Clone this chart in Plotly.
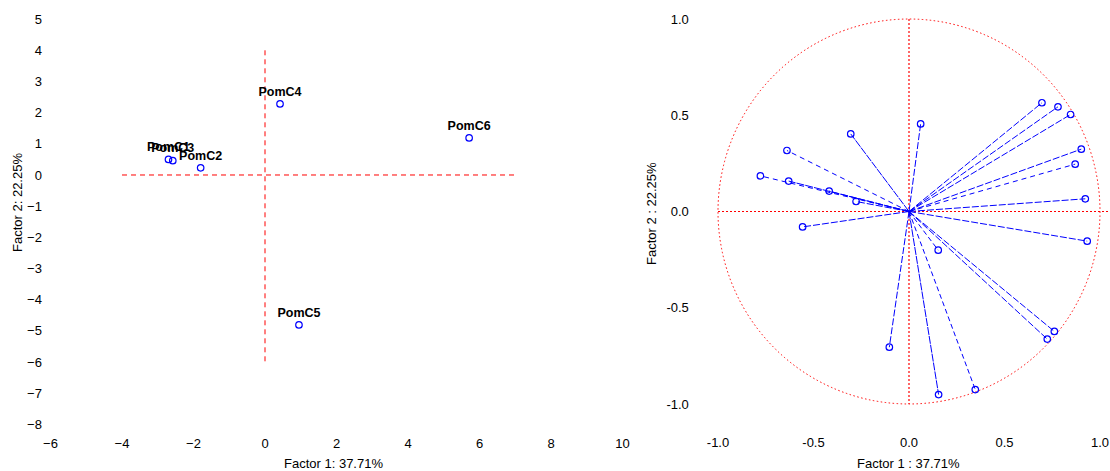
import plotly.graph_objects as go

# ---- Left panel: observations (factor scores) ----
obs_names = ["PomC1", "PomC2", "PomC3", "PomC4", "PomC5", "PomC6"]
obs_f1 = [-2.70, -1.80, -2.58, 0.42, 0.95, 5.71]
obs_f2 = [0.50, 0.23, 0.46, 2.28, -4.81, 1.19]

left_xticks = [-6, -4, -2, 0, 2, 4, 6, 8, 10]
left_yticks = [5, 4, 3, 2, 1, 0, -1, -2, -3, -4, -5, -6, -7, -8]

# ---- Right panel: variables (correlation circle) ----
var_f1 = [0.696, 0.780, 0.846, 0.902, 0.870, 0.923, 0.061, -0.305, -0.639, -0.778,
          -0.630, -0.418, -0.277, -0.557, 0.933, 0.153, 0.761, 0.724, -0.103, 0.155, 0.347]
var_f2 = [0.565, 0.544, 0.504, 0.324, 0.246, 0.066, 0.455, 0.403, 0.317, 0.185,
          0.158, 0.106, 0.052, -0.080, -0.154, -0.201, -0.623, -0.663, -0.705, -0.951, -0.925]
var_dash = ["7px,2px", "7px,2px", "7px,2px", "7px,2px", "5px,4px", "7px,2px", "7px,2px",
            "8px,1px", "5px,4px", "5px,4px", "8px,1px", "7px,2px", "7px,2px", "7px,2px",
            "7px,2px", "5px,3px", "7px,2px", "7px,2px", "7px,2px", "8px,1px", "5px,3px"]

right_ticks = [-1.0, -0.5, 0.0, 0.5, 1.0]
right_ticklabels = ["-1.0", "-0.5", "0.0", "0.5", "1.0"]

BLUE = "#0000FF"
RED = "#FF0000"
FONT = "Liberation Sans, Arial, sans-serif"
W, H = 1110, 471

fig = go.Figure()

# Left panel points
fig.add_trace(go.Scatter(
    x=obs_f1, y=obs_f2, mode="markers+text", text=obs_names,
    textposition="top center",
    textfont=dict(family=FONT, size=12.5, color="black", weight="bold"),
    marker=dict(symbol="circle-open", size=6.5, color=BLUE, line=dict(width=1.2, color=BLUE)),
    xaxis="x", yaxis="y", showlegend=False, hoverinfo="skip", cliponaxis=False))

# Right panel vectors
for vx, vy, d in zip(var_f1, var_f2, var_dash):
    fig.add_trace(go.Scatter(
        x=[0, vx], y=[0, vy], mode="lines",
        line=dict(color=BLUE, width=1, dash=d),
        xaxis="x2", yaxis="y2", showlegend=False, hoverinfo="skip"))
fig.add_trace(go.Scatter(
    x=var_f1, y=var_f2, mode="markers",
    marker=dict(symbol="circle-open", size=6.5, color=BLUE, line=dict(width=1.2, color=BLUE)),
    xaxis="x2", yaxis="y2", showlegend=False, hoverinfo="skip", cliponaxis=False))

shapes = [
    # left red dashed cross
    dict(type="line", xref="x", yref="y", x0=-4, x1=7, y0=0, y1=0, layer="below",
         line=dict(color=RED, width=1, dash="5px,4px")),
    dict(type="line", xref="x", yref="y", x0=0, x1=0, y0=4, y1=-6, layer="below",
         line=dict(color=RED, width=1, dash="5px,4px")),
    # right unit circle and dotted axes
    dict(type="circle", xref="x2", yref="y2", x0=-1, x1=1, y0=-1, y1=1, layer="below",
         line=dict(color=RED, width=1, dash="1.5px,2.5px")),
    dict(type="line", xref="x2", yref="y2", x0=-1, x1=1.05, y0=0, y1=0, layer="below",
         line=dict(color=RED, width=1.2, dash="2px,2px")),
    dict(type="line", xref="x2", yref="y2", x0=0, x1=0, y0=1, y1=-1, layer="below",
         line=dict(color=RED, width=1.2, dash="2px,2px")),
]

axis_common = dict(showgrid=False, zeroline=False, showline=False, automargin=False,
                   tickfont=dict(family=FONT, size=13, color="black"))

def px_x(p):
    return p / W

def px_y(p):
    return (H - p) / H

def title_ann(text, x, y, angle=0):
    return dict(text=text, x=px_x(x), y=px_y(y), xref="paper", yref="paper",
                xanchor="center", yanchor="middle", showarrow=False, textangle=angle,
                font=dict(family=FONT, size=13, color="black"))

fig.update_layout(
    width=W, height=H,
    margin=dict(l=0, r=0, t=0, b=0),
    paper_bgcolor="white", plot_bgcolor="white",
    showlegend=False,
    shapes=shapes,
    xaxis=dict(domain=[px_x(50.5), px_x(622.5)], range=[-6, 10], tickvals=left_xticks,
               ticks="outside", ticklen=1, tickcolor="rgba(0,0,0,0)", anchor="y", **axis_common),
    yaxis=dict(domain=[px_y(430.6), px_y(12.9)], range=[-8.2, 5.2], tickvals=left_yticks,
               ticks="outside", ticklen=5, tickcolor="rgba(0,0,0,0)", anchor="x", **axis_common),
    xaxis2=dict(domain=[px_x(708.45), px_x(1109.55)], range=[-1.05, 1.05],
                tickvals=right_ticks, ticktext=right_ticklabels,
                ticks="outside", ticklen=1, tickcolor="rgba(0,0,0,0)", anchor="y2", **axis_common),
    yaxis2=dict(domain=[px_y(429), px_y(9.4)], range=[-1.13, 1.05],
                tickvals=right_ticks, ticktext=right_ticklabels,
                ticks="outside", ticklen=16, tickcolor="rgba(0,0,0,0)", anchor="x2", **axis_common),
    annotations=[
        title_ann("Factor 1: 37.71%", 333, 463),
        title_ann("Factor 2: 22.25%", 17, 203, -90),
        title_ann("Factor 1 : 37.71%", 908, 463),
        title_ann("Factor 2 : 22.25%", 651, 214, -90),
    ],
)

fig.write_html(
    "out.html",
    config={"displayModeBar": False},
    post_script="document.body.style.margin='0px';document.body.style.overflow='hidden';",
)
